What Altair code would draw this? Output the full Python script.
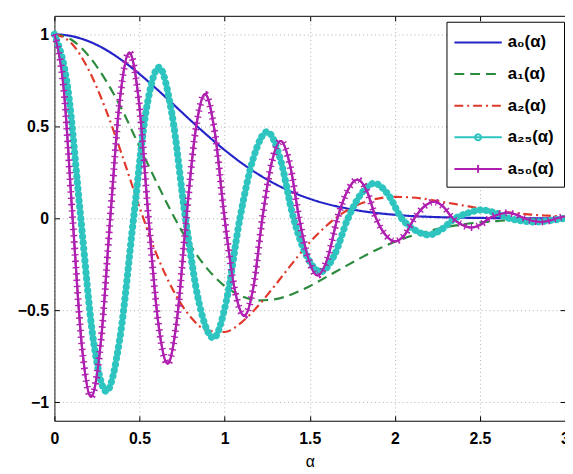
import altair as alt
import pandas as pd

# ---- values ----
alpha_grid = [0.0, 0.1, 0.2, 0.3, 0.4, 0.5, 0.6, 0.7, 0.8, 0.9, 1.0,
              1.1, 1.2, 1.3, 1.4, 1.5, 1.6, 1.7, 1.8, 1.9, 2.0,
              2.1, 2.2, 2.3, 2.4, 2.5, 2.6, 2.7, 2.8, 2.9, 3.0]
a0_vals = [1.00, 0.99, 0.962, 0.917, 0.856, 0.784, 0.703, 0.618, 0.532, 0.449, 0.371,
           0.300, 0.238, 0.185, 0.141, 0.106, 0.078, 0.057, 0.040, 0.028, 0.019,
           0.012, 0.008, 0.005, 0.003, 0.002, 0.001, 0.001, 0.0, 0.0, 0.0]
a1_vals = [1.00, 0.97, 0.884, 0.752, 0.585, 0.389, 0.196, 0.012, -0.148, -0.276, -0.368,
           -0.423, -0.446, -0.439, -0.411, -0.369, -0.318, -0.266, -0.215, -0.168, -0.128,
           -0.095, -0.069, -0.048, -0.033, -0.022, -0.015, -0.009, -0.006, -0.004, -0.002]
a2_vals = [1.00, 0.951, 0.809, 0.595, 0.336, 0.060, -0.195, -0.395, -0.536, -0.610, -0.618,
           -0.565, -0.473, -0.360, -0.242, -0.131, -0.039, 0.032, 0.080, 0.107, 0.116,
           0.113, 0.102, 0.086, 0.070, 0.054, 0.040, 0.029, 0.020, 0.014, 0.009]

alpha_a25 = [0.000, 0.078, 0.155, 0.230, 0.305, 0.385, 0.465, 0.540, 0.615, 0.690,
             0.770, 0.850, 0.935, 1.010, 1.090, 1.170, 1.250, 1.325, 1.405, 1.485,
             1.565, 1.645, 1.725, 1.800, 1.880, 1.960, 2.040, 2.120, 2.200, 2.275,
             2.355, 2.435, 2.510, 2.590, 2.670, 2.750, 2.830, 2.910, 3.000]
a25_vals = [1.00, 0.71, 0.00, -0.67, -0.94, -0.65, 0.00, 0.59, 0.82, 0.57,
            0.00, -0.46, -0.65, -0.45, 0.00, 0.33, 0.47, 0.33, 0.00, -0.21,
            -0.29, -0.20, 0.00, 0.13, 0.19, 0.13, 0.00, -0.065, -0.09, -0.06,
            0.00, 0.03, 0.045, 0.03, 0.00, -0.014, -0.02, -0.012, 0.00]

alpha_a50 = [0.000, 0.054, 0.107, 0.161, 0.215, 0.272, 0.328, 0.384, 0.440, 0.497,
             0.553, 0.609, 0.665, 0.720, 0.775, 0.830, 0.885, 0.942, 1.000, 1.058,
             1.115, 1.170, 1.222, 1.276, 1.330, 1.384, 1.438, 1.492, 1.545, 1.604,
             1.663, 1.722, 1.780, 1.835, 1.890, 1.945, 2.000, 2.058, 2.115, 2.172,
             2.230, 2.285, 2.340, 2.395, 2.450, 2.503, 2.555, 2.608, 2.660, 2.710,
             2.760, 2.810, 2.860, 2.905, 2.950, 3.000]
a50_vals = [1.00, 0.71, 0.00, -0.69, -0.97, -0.68, 0.00, 0.64, 0.90, 0.63,
            0.00, -0.56, -0.79, -0.55, 0.00, 0.48, 0.675, 0.47, 0.00, -0.38,
            -0.53, -0.37, 0.00, 0.30, 0.42, 0.29, 0.00, -0.22, -0.31, -0.22,
            0.00, 0.15, 0.21, 0.15, 0.00, -0.09, -0.125, -0.09, 0.00, 0.063,
            0.09, 0.063, 0.00, -0.035, -0.05, -0.035, 0.00, 0.021, 0.03, 0.021,
            0.00, -0.014, -0.02, -0.014, 0.00, 0.01]

series_names = ["a₀(α)", "a₁(α)", "a₂(α)", "a₂₅(α)", "a₅₀(α)"]
series_colors = ["#2424c8", "#2b8a3c", "#e0382a", "#2ec4c0", "#b020b0"]
series_dash = [[1, 0], [10, 6], [9, 4, 2, 4], [1, 0], [1, 0]]
x_ticks = [0, 0.5, 1, 1.5, 2, 2.5, 3]
y_ticks = [-1, -0.5, 0, 0.5, 1]

rows = []
for name, xs, ys in [
    (series_names[0], alpha_grid, a0_vals),
    (series_names[1], alpha_grid, a1_vals),
    (series_names[2], alpha_grid, a2_vals),
    (series_names[3], alpha_a25, a25_vals),
    (series_names[4], alpha_a50, a50_vals),
]:
    for x, y in zip(xs, ys):
        rows.append({"alpha": x, "value": y, "series": name})
df = pd.DataFrame(rows)

W, H = 517, 410
FONT = "Liberation Sans"
xscale = alt.Scale(domain=[0, 3], nice=False, zero=False)
yscale = alt.Scale(domain=[-1.1, 1.1], nice=False, zero=False)

grid_kw = dict(grid=True, gridDash=[1, 3], gridColor="#b0b0b0", gridWidth=1)
main_x_axis = alt.Axis(values=x_ticks, format="~g", ticks=False, domain=False,
                       labelFont=FONT, labelFontSize=16, labelFontWeight="bold",
                       labelColor="black", labelPadding=10, labelFlush=False,
                       title="α", titleFont=FONT, titleFontSize=16,
                       titleFontWeight="normal", titleColor="black", titlePadding=7,
                       **grid_kw)
main_y_axis = alt.Axis(values=y_ticks, format="~g", ticks=False, domain=False,
                       labelFont=FONT, labelFontSize=16, labelFontWeight="bold",
                       labelColor="black", labelPadding=6, labelFlush=False,
                       title=None, **grid_kw)


def tick_axis(orient, offset, values):
    return alt.Axis(orient=orient, offset=offset, values=values, labels=False,
                    ticks=True, tickSize=5, tickColor="black", tickWidth=1,
                    domain=False, grid=False, title=None)


sym_plain = "M-1.3,0H3.5"
sym_dot = "M-1.3,0H3.5M1.4,0A0.3,0.3 0 1,1 0.8,0A0.3,0.3 0 1,1 1.4,0"
sym_plus = "M-1.3,0H3.5M1.1,-0.4V0.4"
sym_expr = ("datum.index === 3 ? '%s' : (datum.index === 4 ? '%s' : '%s')"
            % (sym_dot, sym_plus, sym_plain))

leg = alt.Legend(title=None, orient="none", legendX=397, legendY=6,
                 symbolType={"expr": sym_expr}, symbolSize=400, symbolStrokeWidth=2,
                 labelFont=FONT, labelFontSize=17, labelFontWeight="bold",
                 labelColor="black", labelOffset=30, rowPadding=13, padding=10,
                 strokeColor="black", fillColor="white", cornerRadius=0)

base = alt.Chart(df)

lines = base.mark_line(strokeWidth=2.2, interpolate="monotone").encode(
    x=alt.X("alpha:Q", scale=xscale, axis=main_x_axis),
    y=alt.Y("value:Q", scale=yscale, axis=main_y_axis),
    color=alt.Color("series:N", scale=alt.Scale(domain=series_names, range=series_colors), legend=leg),
    strokeDash=alt.StrokeDash("series:N", scale=alt.Scale(domain=series_names, range=series_dash), legend=leg),
)

beads = base.transform_filter(alt.datum.series == series_names[3]).mark_line(
    color=series_colors[3], strokeWidth=7.2, strokeDash=[0.1, 6.0],
    strokeCap="round", interpolate="monotone"
).encode(
    x=alt.X("alpha:Q", scale=xscale, axis=tick_axis("top", -H, x_ticks)),
    y=alt.Y("value:Q", scale=yscale, axis=tick_axis("right", -W, y_ticks)),
)

a50_line = base.transform_filter(alt.datum.series == series_names[4]).mark_line(
    color=series_colors[4], strokeWidth=2.2, interpolate="monotone"
).encode(
    x=alt.X("alpha:Q", scale=xscale, axis=None),
    y=alt.Y("value:Q", scale=yscale, axis=None),
)

a50_bars = base.transform_filter(alt.datum.series == series_names[4]).mark_line(
    color=series_colors[4], strokeWidth=7, strokeDash=[1.4, 5],
    strokeCap="butt", interpolate="monotone"
).encode(
    x=alt.X("alpha:Q", scale=xscale, axis=tick_axis("bottom", -H, x_ticks)),
    y=alt.Y("value:Q", scale=yscale, axis=tick_axis("left", -W, y_ticks)),
)

chart = (
    alt.layer(lines, beads, a50_line, a50_bars)
    .resolve_scale(x="shared", y="shared")
    .resolve_axis(x="independent", y="independent")
    .properties(width=W, height=H, background="white",
                autosize=alt.AutoSizeParams(type="none"),
                padding={"left": 47, "top": 5, "right": 0, "bottom": 51})
    .configure_view(stroke="black", strokeWidth=1)
)

chart.save("out.html", embed_options={"renderer": "svg", "actions": False})
